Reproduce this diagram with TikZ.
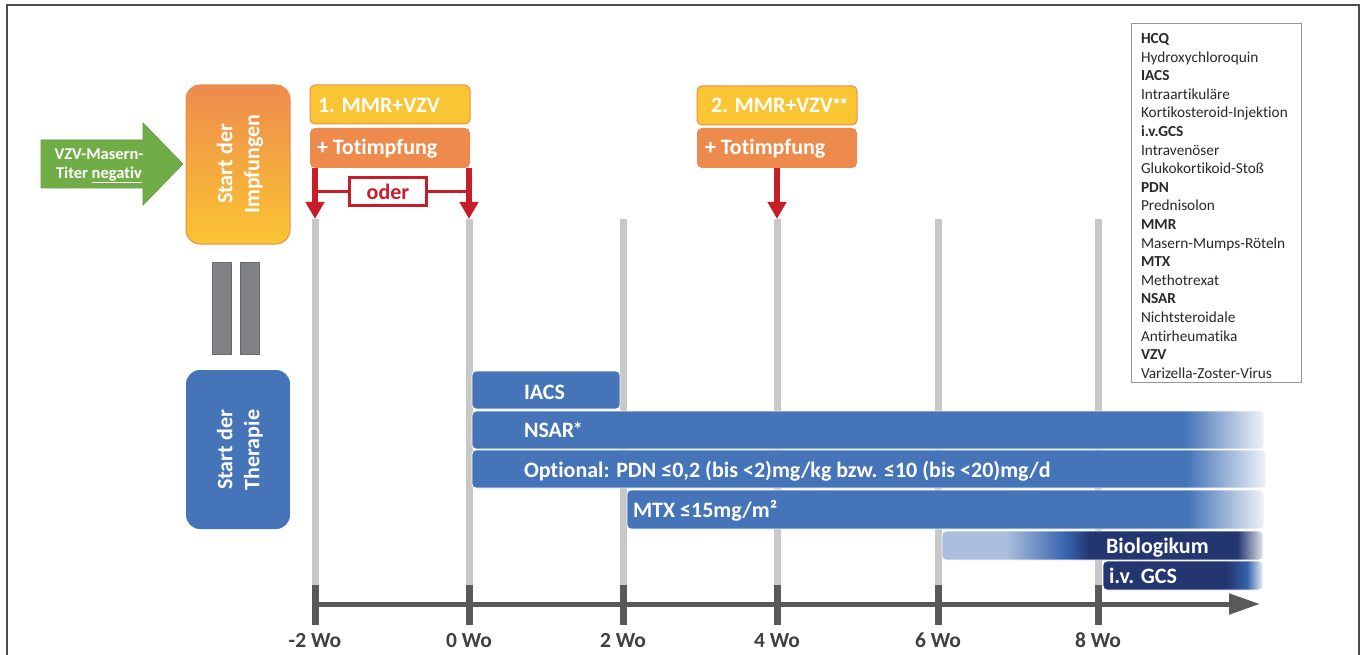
\documentclass[tikz,border=0pt]{standalone}
\usepackage{fontspec}
\setmainfont{Carlito}[Ligatures=NoCommon]
\usetikzlibrary{arrows.meta}
\definecolor{frameC}{RGB}{77,77,77}
\definecolor{legC}{RGB}{150,150,150}
\definecolor{legT}{RGB}{40,40,40}
\definecolor{gridC}{RGB}{200,200,200}
\definecolor{axC}{RGB}{89,89,89}
\definecolor{labC}{RGB}{64,64,64}
\definecolor{greenC}{RGB}{112,173,71}
\definecolor{greenD}{RGB}{95,150,60}
\definecolor{orangeC}{RGB}{237,139,77}
\definecolor{yellowC}{RGB}{250,197,50}
\definecolor{grayB}{RGB}{128,130,133}
\definecolor{grayBD}{RGB}{105,105,108}
\definecolor{redC}{RGB}{200,30,42}
\definecolor{tblue}{RGB}{69,116,184}
\definecolor{navy}{RGB}{35,54,112}
\definecolor{midblue}{RGB}{52,98,170}
\definecolor{lightblue}{RGB}{170,190,222}
\definecolor{paleblue}{RGB}{240,243,249}
\definecolor{paleg}{RGB}{226,228,235}
% the path covers the central 25bp--75bp of a TikZ shading
\pgfdeclarehorizontalshading{fadeA}{100bp}{color(0bp)=(tblue); color(70bp)=(tblue); color(75bp)=(paleblue); color(100bp)=(paleblue)}
\pgfdeclarehorizontalshading{fadeB}{100bp}{color(0bp)=(tblue); color(69bp)=(tblue); color(75bp)=(paleblue); color(100bp)=(paleblue)}
\pgfdeclarehorizontalshading{bio}{100bp}{color(0bp)=(lightblue); color(35bp)=(lightblue); color(44.5bp)=(midblue); color(48bp)=(navy); color(71bp)=(navy); color(75bp)=(paleg); color(100bp)=(paleg)}
\pgfdeclarehorizontalshading{gcs}{100bp}{color(0bp)=(navy); color(63.5bp)=(navy); color(70bp)=(midblue); color(75bp)=(paleblue); color(100bp)=(paleblue)}
\newcommand{\stars}[1]{\kern-1.5pt\raisebox{0.5pt}{\fontsize{20}{20}\selectfont #1}}
\begin{document}
\begin{tikzpicture}[x=1pt,y=-1pt,
  every node/.style={inner sep=0pt, outer sep=0pt},
  wt/.style={text=white, font=\bfseries\fontsize{22}{26}\selectfont},
  lab/.style={text=labC, font=\bfseries\fontsize{21.5}{26}\selectfont, anchor=base},
  legline/.style={text=legT, font=\fontsize{15.3}{18}\selectfont, anchor=base west},
  box/.style={anchor=north west, rounded corners=5pt},
  bar/.style={anchor=north west, draw=white, line width=0.8pt, rounded corners=4pt},
  bigbox/.style={anchor=north west, rounded corners=14pt, minimum width=104, minimum height=159},
  redarrow/.style={redC, line width=6pt, -{Triangle[length=17pt,width=18pt]}},
  grid/.style={gridC, line width=7pt},
  tick/.style={axC, line width=7pt}]
\useasboundingbox (0,0) rectangle (1362,655);
% frame
\draw[frameC, line width=2pt] (7,656) -- (7,5) -- (1359,5) -- (1359,656);
% legend
\node[draw=legC, line width=1pt, minimum width=170, minimum height=358, anchor=north west] (legend) at (1131,24) {};
\foreach \t [count=\i] in {\textbf{HCQ}, Hydroxychloroquin, \textbf{IACS}, Intraartikuläre, Kortikosteroid-Injektion, \textbf{i.v.GCS}, Intravenöser, Glukokortikoid-Stoß, \textbf{PDN}, Prednisolon, \textbf{MMR}, Masern-Mumps-Röteln, \textbf{MTX}, Methotrexat, \textbf{NSAR}, Nichtsteroidale, Antirheumatika, \textbf{VZV}, Varizella-Zoster-Virus}
  \node[legline] (leg\i) at (1141,{43.5+18.6*(\i-1)}) {\t};
% timeline grid
\foreach \x/\n/\l in {315/m2/-2 Wo, 469/w0/0 Wo, 623/w2/2 Wo, 777/w4/4 Wo, 938/w6/6 Wo, 1098/w8/8 Wo} {
  \coordinate (top\n) at (\x,219);
  \coordinate (bot\n) at (\x,585);
  \coordinate (end\n) at (\x,625);
  \draw[grid] (top\n) -- (bot\n);
  \draw[tick] (bot\n) -- (end\n);
  \node[lab] (lab\n) at (\x,647) {\l};
}
\coordinate (axS) at (312,604);
\coordinate (axE) at (1260,604);
\draw[axC, line width=5pt, -{Triangle[length=31pt,width=20pt]}] (axS) -- (axE);
% green arrow
\fill[greenC, draw=greenD, line width=0.6pt] (41,140) -- (143,140) -- (143,123) -- (183,164) -- (143,205) -- (143,188) -- (41,188) -- cycle;
\node[text=white, font=\bfseries\fontsize{16.5}{18.5}\selectfont, align=center] (titer) at (99,166) {VZV-Masern-\\Titer \underline{negativ}};
% start boxes
\node[bigbox, draw=orangeC, line width=1pt, top color=orangeC, bottom color=yellowC] (impf) at (186,85) {};
\node[text=white, font=\bfseries\fontsize{22}{27}\selectfont, align=center, rotate=90] (impfT) at (240,164) {Start der\\Impfungen};
\node[anchor=north west, fill=grayB, draw=grayBD, line width=0.8pt, minimum width=19, minimum height=92] (eq1) at (212,262) {};
\node[anchor=north west, fill=grayB, draw=grayBD, line width=0.8pt, minimum width=19, minimum height=92] (eq2) at (240,262) {};
\node[bigbox, fill=tblue] (ther) at (186,370) {};
\node[text=white, font=\bfseries\fontsize{22}{27}\selectfont, align=center, rotate=90] (therT) at (240,450) {Start der\\Therapie};
% vaccination boxes
\node[box, draw=orangeC, line width=1pt, fill=yellowC, minimum width=160, minimum height=39] (mmr1) at (310,85) {};
\node[box, fill=orangeC, minimum width=160, minimum height=40] (tot1) at (310,128) {};
\node[wt, anchor=base west] (mmr1T) at (318,113) {1. MMR+VZV};
\node[wt, anchor=base west] (tot1T) at (317,155) {+ Totimpfung};
\node[box, draw=orangeC, line width=1pt, fill=yellowC, minimum width=160, minimum height=39] (mmr2) at (697,86) {};
\node[box, fill=orangeC, minimum width=160, minimum height=40] (tot2) at (697,128) {};
\node[wt, anchor=base west] (mmr2T) at (711,113) {2. MMR+VZV\stars{*\kern-2.5pt*}};
\node[wt, anchor=base west] (tot2T) at (705,155) {+ Totimpfung};
% red arrows
\draw[redarrow] (tot1.south -| topm2) -- (topm2);
\draw[redarrow] (tot1.south -| topw0) -- (topw0);
\draw[redarrow] (tot2.south -| topw4) -- (topw4);
\node[draw=redC, fill=white, line width=2.5pt, minimum width=77, minimum height=28, text=redC, font=\bfseries\fontsize{22}{26}\selectfont] (oder) at (388,191.5) {oder};
\draw[redC, line width=3pt] (oder.west) -- (oder.west -| topm2);
\draw[redC, line width=3pt] (oder.east) -- (oder.east -| topw0);
% therapy bars
\node[bar, fill=tblue, minimum width=148, minimum height=38] (iacs) at (472,371) {};
\node[bar, shade, shading=fadeA, minimum width=792, minimum height=38] (nsar) at (472,411) {};
\node[bar, shade, shading=fadeA, minimum width=794, minimum height=38] (pdn) at (472,450) {};
\node[bar, shade, shading=fadeB, minimum width=637, minimum height=39] (mtx) at (627,490) {};
\node[bar, shade, shading=bio, minimum width=321, minimum height=29] (biol) at (942,531) {};
\node[bar, shade, shading=gcs, minimum width=160, minimum height=29] (gcs) at (1103,561) {};
\node[wt, anchor=base west] (iacsT) at (524,399) {IACS};
\node[wt, anchor=base west] (nsarT) at (524,437) {NSAR\stars{*}};
\node[wt, anchor=base west] (pdnT) at (524,477) {Optional: PDN ≤0,2 (bis <2)mg/kg bzw. ≤10 (bis <20)mg/d};
\node[wt, anchor=base west] (mtxT) at (633,517) {MTX ≤15mg/m²};
\node[wt, anchor=base west] (biolT) at (1106,553) {Biologikum};
\node[wt, anchor=base west] (gcsT) at (1109,583) {i.v. GCS};
\end{tikzpicture}
\end{document}
